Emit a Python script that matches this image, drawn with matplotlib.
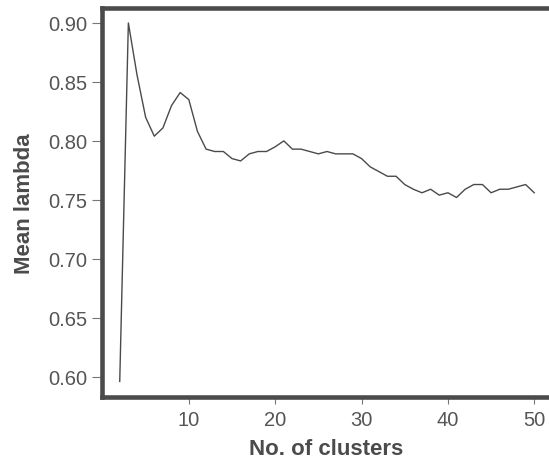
import matplotlib
matplotlib.use("Agg")
import matplotlib.pyplot as plt

plt.rcParams['font.family'] = ['Liberation Sans', 'DejaVu Sans']
plt.rcParams['savefig.bbox'] = 'standard'

# number of clusters and the mean lambda
clusters = list(range(2, 51))
mean_lambda = [
    0.596, 0.900, 0.856, 0.820, 0.804, 0.811, 0.830, 0.841, 0.835, 0.808,
    0.793, 0.791, 0.791, 0.785, 0.783, 0.789, 0.791, 0.791, 0.795, 0.800,
    0.793, 0.793, 0.791, 0.789, 0.791, 0.789, 0.789, 0.789, 0.785, 0.778,
    0.774, 0.770, 0.770, 0.763, 0.759, 0.756, 0.759, 0.754, 0.756, 0.752,
    0.759, 0.763, 0.763, 0.756, 0.759, 0.759, 0.761, 0.763, 0.756,
]

x_ticks = [10, 20, 30, 40, 50]
y_ticks = [0.60, 0.65, 0.70, 0.75, 0.80, 0.85, 0.90]

FRAME = '#4b4b4b'
TEXT = '#555555'

fig = plt.figure(figsize=(5.49, 4.64), dpi=100)
# the plot box runs a little past the right edge of the picture
ax = fig.add_axes([0.1849, 0.1412, 0.8197, 0.8384])

ax.plot(clusters, mean_lambda, color='#4a4a4a', linewidth=1.0)

ax.set_xlim(-0.11, 52.0)
ax.set_ylim(0.5824, 0.9123)
ax.set_xticks(x_ticks)
ax.set_yticks(y_ticks)
ax.set_yticklabels(['{:.2f}'.format(v) for v in y_ticks])

# open frame: left, bottom and top only, drawn as plain lines
for s in ax.spines.values():
    s.set_visible(False)
frame_kw = dict(transform=ax.transAxes, color=FRAME, linewidth=3.3,
                solid_capstyle='projecting', clip_on=False)
ax.plot([0, 0], [0, 1], **frame_kw)
ax.plot([0, 1], [0, 0], **frame_kw)
ax.plot([0, 1], [1, 1], **frame_kw)

ax.tick_params(axis='x', length=5, width=0.8, color='#777777', labelsize=14.5, labelcolor=TEXT, pad=4)
ax.tick_params(axis='y', length=7.5, width=0.8, color='#777777', labelsize=14.5, labelcolor=TEXT, pad=3)

ax.set_xlabel('No. of clusters', fontsize=16, fontweight='bold', color=FRAME)
ax.set_ylabel('Mean lambda', fontsize=16, fontweight='bold', color=FRAME)
ax.xaxis.set_label_coords(0.5, -0.105)
ax.yaxis.set_label_coords(-0.148, 0.5)

fig.savefig('out.png', dpi=100)
